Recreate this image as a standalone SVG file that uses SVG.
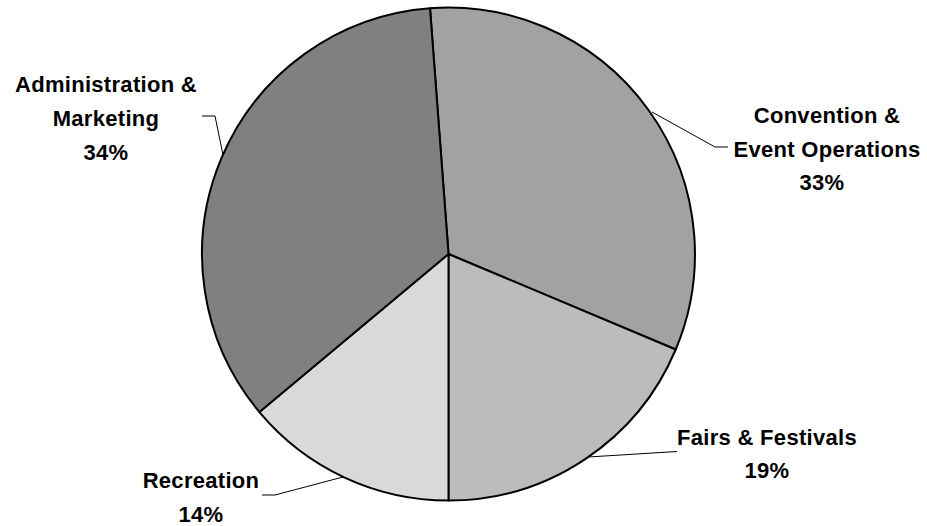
<svg xmlns="http://www.w3.org/2000/svg" width="927" height="526" viewBox="0 0 927 526">
  <style>
    .slice { stroke: #000; stroke-width: 2; stroke-linejoin: round; }
    .lbl { font-family: "Liberation Sans", Arial, sans-serif; font-weight: bold; font-size: 22px; letter-spacing: 0.3px; fill: #000; text-anchor: middle; }
    .leader { fill: none; stroke: #000; stroke-width: 1; }
  </style>
  <rect width="927" height="526" fill="#fff"/>
  <g id="slice-convention">
    <path class="slice" fill="#a2a2a2" d="M448.5,254 L430,8.2 A246.5,246.5 0 0 1 675.7,349.5 Z"/>
  </g>
  <g id="slice-fairs">
    <path class="slice" fill="#bcbcbc" d="M448.5,254 L675.7,349.5 A246.5,246.5 0 0 1 448.5,500.5 Z"/>
  </g>
  <g id="slice-recreation">
    <path class="slice" fill="#d9d9d9" d="M448.5,254 L448.5,500.5 A246.5,246.5 0 0 1 259.4,412.1 Z"/>
  </g>
  <g id="slice-admin">
    <path class="slice" fill="#808080" d="M448.5,254 L259.4,412.1 A246.5,246.5 0 0 1 430,8.2 Z"/>
  </g>
  <g id="connectors">
    <polyline class="leader" points="652,112 715,147 728,147"/>
    <polyline class="leader" points="202,116 215,116 223,155"/>
    <polyline class="leader" points="588,457 677,451.5"/>
    <polyline class="leader" points="262,495 275,495 343,477"/>
  </g>
  <g id="label-admin">
    <text class="lbl" x="106" y="92">Administration &amp;</text>
    <text class="lbl" x="106" y="126">Marketing</text>
    <text class="lbl" x="106" y="160">34%</text>
  </g>
  <g id="label-convention">
    <text class="lbl" x="827" y="123">Convention &amp;</text>
    <text class="lbl" x="827" y="157">Event Operations</text>
    <text class="lbl" x="822" y="190">33%</text>
  </g>
  <g id="label-fairs">
    <text class="lbl" x="767" y="445">Fairs &amp; Festivals</text>
    <text class="lbl" x="767" y="478">19%</text>
  </g>
  <g id="label-recreation">
    <text class="lbl" x="201" y="488">Recreation</text>
    <text class="lbl" x="201" y="522">14%</text>
  </g>
</svg>
